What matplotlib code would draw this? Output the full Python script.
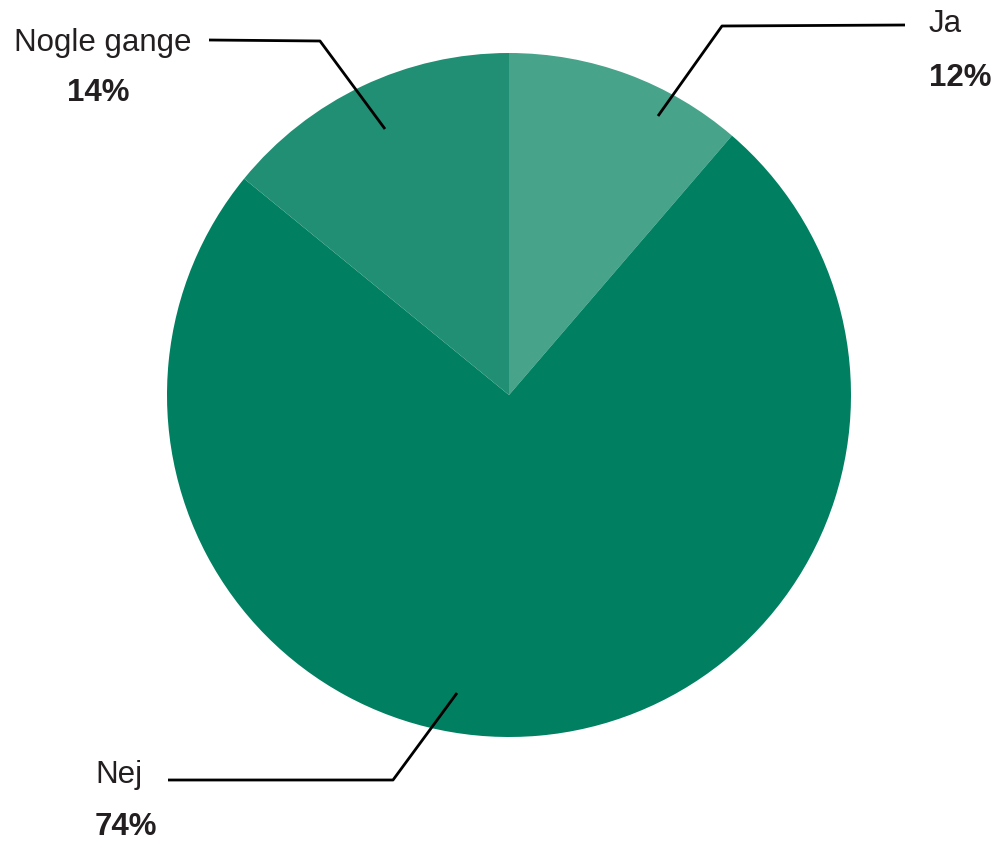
import matplotlib.pyplot as plt

labels = ['Ja', 'Nej', 'Nogle gange']
values = [11.3, 74.6, 14.1]
pct_labels = ['12%', '74%', '14%']
colors = ['#48a38b', '#008060', '#218f73']

fig = plt.figure(figsize=(9.94, 8.43), dpi=100)
ax = fig.add_axes([0, 0, 1, 1])

# y axis is inverted, so start at -90 and go "counterclock" -> clockwise from top on screen
ax.pie(values, colors=colors, startangle=-90, counterclock=True,
       center=(509, 395), radius=342, frame=True,
       wedgeprops=dict(linewidth=0))
ax.set_xlim(0, 994)
ax.set_ylim(843, 0)  # pixel-like coords, y down
ax.set_aspect('equal')
ax.axis('off')

plt.rcParams['font.family'] = ['Liberation Sans', 'DejaVu Sans']
fs = 22.5
txtc = '#231f20'

# leader lines
lines = [
    [(658, 116), (722, 26), (905, 25)],
    [(457, 693), (393, 780), (168, 780)],
    [(385, 129), (320, 41), (209, 40)],
]
for pts in lines:
    xs, ys = zip(*pts)
    ax.plot(xs, ys, color='black', lw=2, solid_capstyle='butt')

pct = dict(zip(labels, pct_labels))

ax.text(929, 24, 'Ja', fontsize=fs, color=txtc, ha='left', va='center')
ax.text(929, 78, pct['Ja'], fontsize=fs, color=txtc, ha='left', va='center', fontweight='bold')

ax.text(191, 43, 'Nogle gange', fontsize=fs, color=txtc, ha='right', va='center')
ax.text(98, 93, pct['Nogle gange'], fontsize=fs, color=txtc, ha='center', va='center', fontweight='bold')

ax.text(95, 775, 'Nej', fontsize=fs, color=txtc, ha='left', va='center')
ax.text(95, 827, pct['Nej'], fontsize=fs, color=txtc, ha='left', va='center', fontweight='bold')

fig.savefig('out.png', dpi=100, facecolor='white')
